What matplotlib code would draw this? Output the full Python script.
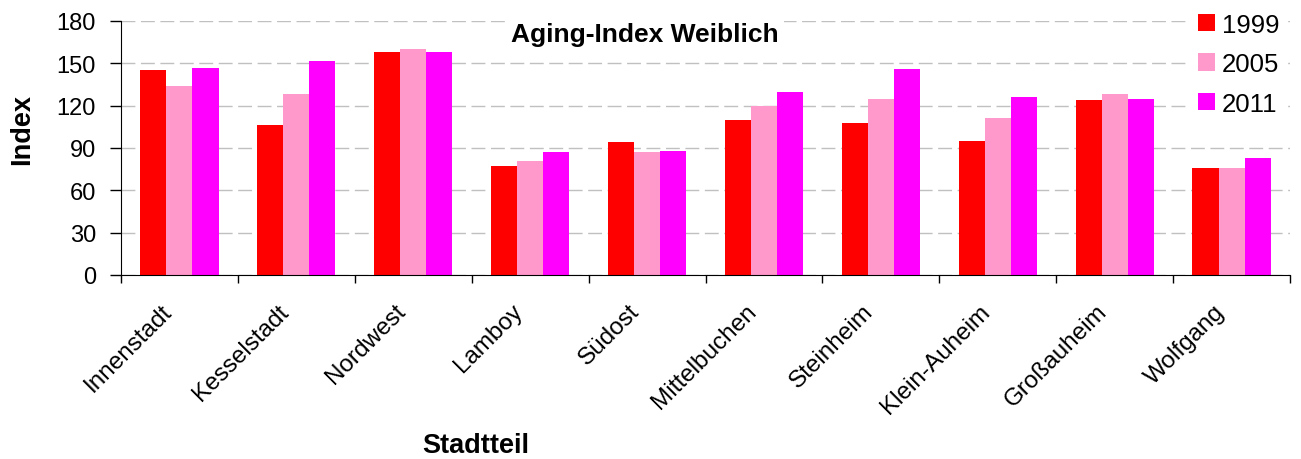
import matplotlib.pyplot as plt
import matplotlib.transforms as mtransforms
import numpy as np

plt.rcParams['font.family'] = ['Liberation Sans', 'DejaVu Sans']

# Data
stadtteile = ['Innenstadt', 'Kesselstadt', 'Nordwest', 'Lamboy', 'Südost',
              'Mittelbuchen', 'Steinheim', 'Klein-Auheim', 'Großauheim', 'Wolfgang']
jahre = ['1999', '2005', '2011']
werte_1999 = [145, 106, 158, 77, 94, 110, 108, 95, 124, 76]
werte_2005 = [134, 128, 160, 81, 87, 120, 125, 111, 128, 76]
werte_2011 = [147, 152, 158, 87, 88, 130, 146, 126, 125, 83]
farben = ['#FF0000', '#FF99CC', '#FF00FF']

fig = plt.figure(figsize=(13.01, 4.60), dpi=100)
ax = fig.add_axes([121 / 1301, 1 - 276 / 460, 1169 / 1301, 254 / 460])

x = np.arange(len(stadtteile))
w = 0.223
for i, (werte, farbe, jahr) in enumerate(zip([werte_1999, werte_2005, werte_2011], farben, jahre)):
    ax.bar(x + (i - 1) * w, werte, width=w, color=farbe, label=jahr, zorder=2)

ax.set_xlim(-0.5, len(stadtteile) - 0.5)
ax.set_ylim(0, 180)
ax.set_yticks(np.arange(0, 181, 30))
ax.tick_params(axis='y', labelsize=17, length=8, width=1, direction='out', pad=10)

# category ticks between groups, labels at centers
ax.set_xticks(np.arange(-0.5, len(stadtteile), 1.0))
ax.set_xticklabels([])
ax.set_xticks(x, minor=True)
ax.set_xticklabels(stadtteile, minor=True, rotation=45, ha='right', va='top',
                   fontsize=17.5)
ax.tick_params(axis='x', which='major', length=6, width=1, direction='out')
ax.tick_params(axis='x', which='minor', length=0, pad=18)
shift = mtransforms.ScaledTranslation(-3 / 100, 0, fig.dpi_scale_trans)
for lab in ax.get_xticklabels(minor=True):
    lab.set_transform(lab.get_transform() + shift)

ax.grid(axis='y', color='#C0C0C0', linestyle=(0, (10, 4)), linewidth=1, zorder=0)
ax.set_axisbelow(True)
for s in ['top', 'right']:
    ax.spines[s].set_visible(False)

ax.text(0.448, 0.95, 'Aging-Index Weiblich', transform=ax.transAxes, ha='center',
        va='center', fontsize=19, fontweight='bold',
        bbox=dict(facecolor='white', edgecolor='none', pad=4), zorder=5)

fig.text(22 / 1301, 1 - 130 / 460, 'Index', rotation=90, ha='center', va='center',
         fontsize=19.5, fontweight='bold')
fig.text(476 / 1301, 1 - 446 / 460, 'Stadtteil', ha='center', va='center',
         fontsize=19.5, fontweight='bold')

leg = fig.legend(loc='upper left', bbox_to_anchor=(1190 / 1301, 1 - 6 / 460),
                 fontsize=18.5, frameon=True, facecolor='white', edgecolor='none',
                 framealpha=1, fancybox=False, handlelength=0.66, handleheight=0.66,
                 handletextpad=0.27, labelspacing=0.6, borderpad=0.3,
                 borderaxespad=0)

fig.savefig('out.png', dpi=100)
